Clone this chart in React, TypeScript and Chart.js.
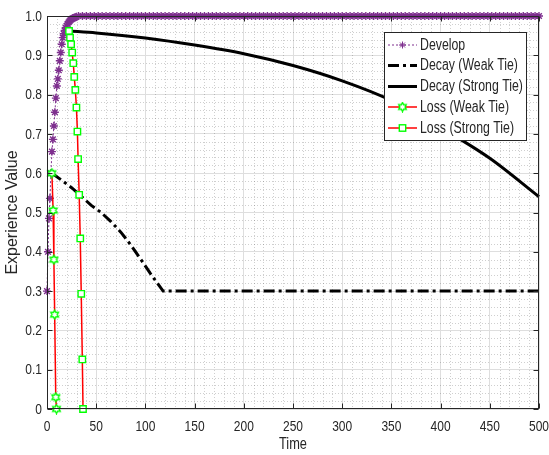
import { useEffect, useRef } from 'react';
import { Chart, registerables } from 'chart.js';

Chart.register(...registerables);

// ---------- data ----------
const developTime = [0, 1, 2, 3, 4, 5, 6, 7, 8, 9, 10, 11, 12, 13, 14, 15, 16, 17, 18, 19, 20, 21, 22, 23, 24, 25, 26, 27, 28, 29, 30];
const developValue = [0.3, 0.4, 0.485, 0.536, 0.6, 0.655, 0.686, 0.72, 0.755, 0.791, 0.822, 0.84, 0.862, 0.886, 0.907, 0.928, 0.945, 0.955, 0.963, 0.97, 0.975, 0.98, 0.984, 0.987, 0.99, 0.992, 0.994, 0.995, 0.996, 0.997, 0.998];
const developPlateauTime = [32, 36, 40, 44, 48, 52, 56, 60, 64, 68, 72, 76, 80, 84, 88, 92, 96, 100, 104, 108, 112, 116, 120, 124, 128, 132, 136, 140, 144, 148, 152, 156, 160, 164, 168, 172, 176, 180, 184, 188, 192, 196, 200, 204, 208, 212, 216, 220, 224, 228, 232, 236, 240, 244, 248, 252, 256, 260, 264, 268, 272, 276, 280, 284, 288, 292, 296, 300, 304, 308, 312, 316, 320, 324, 328, 332, 336, 340, 344, 348, 352, 356, 360, 364, 368, 372, 376, 380, 384, 388, 392, 396, 400, 404, 408, 412, 416, 420, 424, 428, 432, 436, 440, 444, 448, 452, 456, 460, 464, 468, 472, 476, 480, 484, 488, 492, 496, 500];
const developPlateauValue = 1;

const decayWeakTime = [5, 15, 25, 35, 45, 55, 65, 75, 85, 95, 105, 118, 500];
const decayWeakValue = [0.6, 0.582, 0.563, 0.541, 0.518, 0.5, 0.477, 0.45, 0.418, 0.382, 0.345, 0.3, 0.3];

const decayStrongTime = [22, 50, 100, 150, 200, 250, 300, 350, 400, 450, 500];
const decayStrongValue = [0.962, 0.957, 0.944, 0.926, 0.904, 0.874, 0.835, 0.785, 0.716, 0.638, 0.54];

const lossWeakTime = [5, 6.2, 7, 7.8, 8.9, 9.6];
const lossWeakValue = [0.6, 0.505, 0.38, 0.24, 0.03, 0];

const lossStrongTime = [22.4, 23.4, 24.5, 25.6, 26.7, 27.7, 28.8, 29.9, 30.9, 31.6, 32.7, 33.8, 34.8, 35.9, 36.6];
const lossStrongValue = [0.962, 0.945, 0.928, 0.907, 0.88, 0.845, 0.812, 0.767, 0.706, 0.636, 0.545, 0.434, 0.293, 0.126, 0];

const seriesNames = ['Develop', 'Decay (Weak Tie)', 'Decay (Strong Tie)', 'Loss (Weak Tie)', 'Loss (Strong Tie)'];
const xTitle = 'Time';
const yTitle = 'Experience Value';

const xMin = 0, xMax = 500, xStep = 50, xMinorStep = 10;
const yMin = 0, yMax = 1, yStep = 0.1, yMinorStep = 0.02;

// ---------- styles ----------
const PURPLE = '#7E2F8E';
const AXIS = '#262626';
const FONT = "'Liberation Sans', Arial, sans-serif";

const zip = (t: number[], v: number[]) => t.map((x, i) => ({ x, y: v[i] }));

function makeHexagram(): HTMLCanvasElement {
  const c = document.createElement('canvas');
  c.width = 11; c.height = 11;
  const g = c.getContext('2d')!;
  const cx = 5.5, cy = 5.5, R = 4.4, r = R / Math.sqrt(3);
  g.beginPath();
  for (let i = 0; i < 12; i++) {
    const ang = -Math.PI / 2 + (i * Math.PI) / 6;
    const rad = i % 2 === 0 ? R : r;
    const px = cx + rad * Math.cos(ang), py = cy + rad * Math.sin(ang);
    if (i === 0) g.moveTo(px, py); else g.lineTo(px, py);
  }
  g.closePath();
  g.fillStyle = '#ffffff';
  g.fill();
  g.strokeStyle = '#00ff00';
  g.lineWidth = 1.4;
  g.stroke();
  return c;
}

function drawStar(ctx: CanvasRenderingContext2D, x: number, y: number, r: number) {
  ctx.beginPath();
  ctx.moveTo(x - r, y); ctx.lineTo(x + r, y);
  ctx.moveTo(x, y - r); ctx.lineTo(x, y + r);
  const d = r * Math.SQRT1_2;
  ctx.moveTo(x - d, y - d); ctx.lineTo(x + d, y + d);
  ctx.moveTo(x - d, y + d); ctx.lineTo(x + d, y - d);
  ctx.stroke();
}

function squeezedText(ctx: CanvasRenderingContext2D, text: string, x: number, y: number, align: CanvasTextAlign, sx: number) {
  ctx.save();
  ctx.translate(x, y);
  ctx.scale(sx, 1);
  ctx.textAlign = align;
  ctx.fillText(text, 0, 0);
  ctx.restore();
}

const matlabPlugin = {
  id: 'matlabLook',
  beforeDatasetsDraw(chart: any) {
    const { ctx, chartArea: a, scales } = chart;
    const xs = scales.x, ys = scales.y;
    ctx.save();
    ctx.strokeStyle = 'rgba(38,38,38,0.22)';
    ctx.lineWidth = 1;
    ctx.setLineDash([1, 2]);
    for (let v = xMin + xMinorStep; v < xMax; v += xMinorStep) {
      if (Math.abs(v / xStep - Math.round(v / xStep)) < 1e-6) continue;
      const px = Math.round(xs.getPixelForValue(v)) + 0.5;
      ctx.beginPath(); ctx.moveTo(px, a.top); ctx.lineTo(px, a.bottom); ctx.stroke();
    }
    const nMinor = Math.round((yMax - yMin) / yMinorStep);
    const per = Math.round(yStep / yMinorStep);
    for (let i = 1; i < nMinor; i++) {
      if (i % per === 0) continue;
      const py = Math.round(ys.getPixelForValue(yMin + i * yMinorStep)) + 0.5;
      ctx.beginPath(); ctx.moveTo(a.left, py); ctx.lineTo(a.right, py); ctx.stroke();
    }
    ctx.restore();
  },
  afterDraw(chart: any) {
    const { ctx, chartArea: a, scales } = chart;
    const xs = scales.x, ys = scales.y;
    ctx.save();
    // box
    ctx.strokeStyle = AXIS;
    ctx.lineWidth = 1;
    ctx.setLineDash([]);
    const L = Math.round(a.left) + 0.5, R = Math.round(a.right) - 0.5;
    const T = Math.round(a.top) + 0.5, B = Math.round(a.bottom) - 0.5;
    ctx.strokeRect(L, T, R - L, B - T);
    // ticks (inside, all four sides)
    const tl = 5;
    ctx.beginPath();
    xs.ticks.forEach((t: any) => {
      const px = Math.round(xs.getPixelForValue(t.value)) + 0.5;
      ctx.moveTo(px, B); ctx.lineTo(px, B - tl);
      ctx.moveTo(px, T); ctx.lineTo(px, T + tl);
    });
    ys.ticks.forEach((t: any) => {
      const py = Math.round(ys.getPixelForValue(t.value)) + 0.5;
      ctx.moveTo(L, py); ctx.lineTo(L + tl, py);
      ctx.moveTo(R, py); ctx.lineTo(R - tl, py);
    });
    ctx.stroke();

    // tick labels (condensed, as in the source figure)
    ctx.fillStyle = AXIS;
    ctx.textBaseline = 'middle';
    ctx.font = `15px ${FONT}`;
    xs.ticks.forEach((t: any) => {
      squeezedText(ctx, String(t.label), xs.getPixelForValue(t.value), 426.5, 'center', 0.8);
    });
    ys.ticks.forEach((t: any) => {
      squeezedText(ctx, String(t.label), 42, ys.getPixelForValue(t.value) + 0.5, 'right', 0.8);
    });
    // x title
    ctx.font = `16px ${FONT}`;
    squeezedText(ctx, xTitle, (a.left + a.right) / 2, 445, 'center', 0.8);

    // legend
    const bx = 384.5, by = 32.5, bw = 142, bh = 108;
    ctx.fillStyle = '#ffffff';
    ctx.fillRect(bx, by, bw, bh);
    ctx.strokeStyle = AXIS;
    ctx.lineWidth = 1;
    ctx.strokeRect(bx, by, bw, bh);
    const rowY = [45, 65.5, 86.5, 107, 128];
    const x0 = 388, x1 = 417, xm = 402.5;
    ctx.font = `16px ${FONT}`;
    ctx.textBaseline = 'middle';
    chart.data.datasets.forEach((ds: any, i: number) => {
      const y = rowY[i];
      ctx.save();
      ctx.strokeStyle = ds.borderColor;
      ctx.lineWidth = ds.borderWidth;
      ctx.setLineDash(ds.borderDash || []);
      ctx.beginPath(); ctx.moveTo(x0, y); ctx.lineTo(x1, y); ctx.stroke();
      ctx.setLineDash([]);
      if (ds.pointStyle === 'star') {
        ctx.strokeStyle = ds.pointBorderColor; ctx.lineWidth = 1;
        drawStar(ctx, xm, y, 3.5);
      } else if (ds.pointStyle instanceof HTMLCanvasElement) {
        ctx.drawImage(ds.pointStyle, xm - ds.pointStyle.width / 2, y - ds.pointStyle.height / 2);
      } else if (ds.pointStyle === 'rect') {
        ctx.fillStyle = '#ffffff';
        ctx.strokeStyle = '#00ff00';
        ctx.lineWidth = 1.4;
        ctx.fillRect(xm - 3.2, y - 3.2, 6.4, 6.4);
        ctx.strokeRect(xm - 3.2, y - 3.2, 6.4, 6.4);
      }
      ctx.restore();
      ctx.fillStyle = AXIS;
      squeezedText(ctx, ds.label, 420, y + 0.5, 'left', 0.77);
    });
    ctx.restore();
  },
};

export default function App() {
  const ref = useRef<HTMLCanvasElement>(null);
  useEffect(() => {
    const hexagram = makeHexagram();
    const developData = [
      ...zip(developTime, developValue),
      ...developPlateauTime.map((x) => ({ x, y: developPlateauValue })),
    ];
    const chart = new Chart(ref.current!, {
      type: 'line',
      data: {
        datasets: [
          {
            label: seriesNames[0],
            data: developData,
            borderColor: PURPLE,
            borderWidth: 1,
            borderDash: [2, 2],
            pointStyle: 'star',
            pointRadius: 4,
            pointBorderColor: PURPLE,
            pointBackgroundColor: PURPLE,
            pointBorderWidth: 1.4,
            tension: 0,
            clip: false,
            order: 5,
          },
          {
            label: seriesNames[1],
            data: zip(decayWeakTime, decayWeakValue),
            borderColor: '#000000',
            borderWidth: 3,
            borderDash: [11, 4, 3, 4],
            pointRadius: 0,
            tension: 0,
            clip: false,
            order: 4,
          },
          {
            label: seriesNames[2],
            data: zip(decayStrongTime, decayStrongValue),
            borderColor: '#000000',
            borderWidth: 3,
            pointRadius: 0,
            cubicInterpolationMode: 'monotone',
            clip: false,
            order: 3,
          },
          {
            label: seriesNames[3],
            data: zip(lossWeakTime, lossWeakValue),
            borderColor: '#ff0000',
            borderWidth: 1.5,
            pointStyle: hexagram,
            pointRadius: 4,
            tension: 0,
            clip: false,
            order: 2,
          },
          {
            label: seriesNames[4],
            data: zip(lossStrongTime, lossStrongValue),
            borderColor: '#ff0000',
            borderWidth: 1.5,
            pointStyle: 'rect',
            pointRadius: 4.5,
            pointBorderColor: '#00ff00',
            pointBackgroundColor: '#ffffff',
            pointBorderWidth: 1.4,
            tension: 0,
            clip: false,
            order: 1,
          },
        ] as any,
      },
      options: {
        animation: false,
        responsive: false,
        devicePixelRatio: 1,
        events: [],
        layout: { padding: { top: 16, right: 10, left: 0, bottom: 0 } },
        plugins: { legend: { display: false }, tooltip: { enabled: false } },
        scales: {
          x: {
            type: 'linear',
            min: xMin,
            max: xMax,
            ticks: { stepSize: xStep, display: false },
            grid: { color: '#dedede', lineWidth: 1, drawTicks: false },
            border: { display: false },
            afterFit: (s: any) => { s.height = 46; },
          },
          y: {
            type: 'linear',
            min: yMin,
            max: yMax,
            ticks: { stepSize: yStep, display: false },
            grid: { color: '#dedede', lineWidth: 1, drawTicks: false },
            border: { display: false },
            title: { display: true, text: yTitle, color: AXIS, font: { family: FONT, size: 16 }, padding: { top: 3, bottom: 0 } },
            afterFit: (s: any) => { s.width = 47; },
          },
        },
      },
      plugins: [matlabPlugin],
    });
    return () => chart.destroy();
  }, []);
  return (
    <div style={{ position: 'fixed', left: 0, top: 0, width: 549, height: 455, background: '#ffffff' }}>
      <canvas ref={ref} width={549} height={455} style={{ display: 'block' }} />
    </div>
  );
}
